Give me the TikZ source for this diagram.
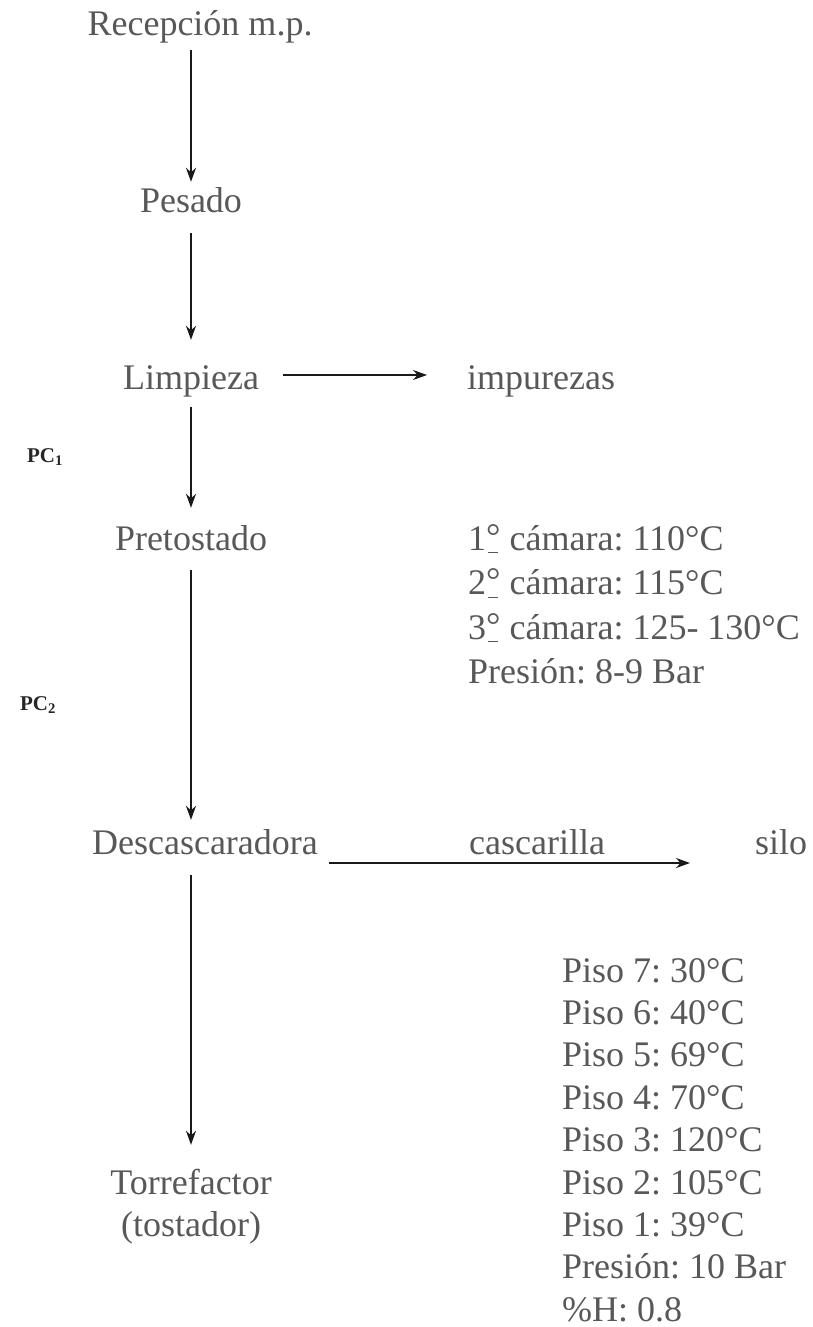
\documentclass[tikz,border=0pt]{standalone}
\usepackage{fontspec}
\setmainfont{Liberation Serif}
\usetikzlibrary{arrows.meta}
\definecolor{txt}{RGB}{88,88,88}
\definecolor{ln}{RGB}{25,25,25}
\newcommand\ordo{\ooalign{\raisebox{2pt}{°}\cr\hidewidth\rule[-3pt]{0.28em}{0.9pt}\hidewidth}}
\frenchspacing
\begin{document}
\begin{tikzpicture}[x=1pt,y=-1pt,
  lbl/.style={font=\fontsize{36}{42}\selectfont, text=txt, inner sep=0pt, text height=25pt, text depth=8pt},
  arr/.style={draw=ln, line width=1.5pt, -{Stealth[length=14pt,width=10pt]}},
  pc/.style={font=\fontsize{21}{22}\selectfont\bfseries, text=black!85, inner sep=0pt}]
\useasboundingbox[fill=white] (0,0) rectangle (812,1327);
% process column
\node[lbl,anchor=base] (rec) at (200,36) {Recepción m.p.};
\node[lbl,anchor=base] (pes) at (191,212) {Pesado};
\node[lbl,anchor=base] (lim) at (191,389) {Limpieza};
\node[lbl,anchor=base west] (imp) at (467,389) {impurezas};
\node[lbl,anchor=base] (pre) at (191,550) {Pretostado};
\node[lbl,anchor=base] (des) at (205,854) {Descascaradora};
\node[lbl,anchor=base west] (cas) at (469,854) {cascarilla};
\node[lbl,anchor=base west] (silo) at (755,854) {silo};
\node[lbl,anchor=base] (tor) at (191,1194) {Torrefactor};
\node[lbl,anchor=base] (tos) at (191,1236) {(tostador)};
% handwritten marks
\node[pc] (pc1) at (45,457) {PC\textsubscript{1}};
\node[pc] (pc2) at (38,705) {PC\textsubscript{2}};
% parameter blocks
\foreach \t [count=\i] in {{1\ordo\ cámara: 110°C},{2\ordo\ cámara: 115°C},{3\ordo\ cámara: 125- 130°C},{Presión: 8-9 Bar}}
  \node[lbl,anchor=base west] (cam\i) at (468,{550+44.5*(\i-1)}) {\t};
\foreach \t [count=\i] in {{Piso 7: 30°C},{Piso 6: 40°C},{Piso 5: 69°C},{Piso 4: 70°C},{Piso 3: 120°C},{Piso 2: 105°C},{Piso 1: 39°C},{Presión: 10 Bar},{\%H: 0.8}}
  \node[lbl,anchor=base west] (p\i) at (562,{982+42.4*(\i-1)}) {\t};
% connectors
\draw[arr, shorten <=6pt, shorten >=5pt] (pes.north |- rec.south) -- (pes.north);
\draw[arr, shorten <=13pt, shorten >=24pt] (pes.south) -- (lim.north);
\draw[arr, shorten <=10pt, shorten >=17pt] (lim.south) -- (pre.north);
\draw[arr, shorten <=12pt, shorten >=9pt] (pre.south) -- (pre.south |- des.north);
\draw[arr, shorten <=13pt, shorten >=24pt] (tor.north |- des.south) -- (tor.north);
\draw[arr] ([xshift=24pt,yshift=14pt]lim.base east) -- ([xshift=-40pt,yshift=14pt]imp.base west);
\draw[arr] ([xshift=11pt,yshift=-9pt]des.base east) -- ([xshift=-65pt,yshift=-9pt]silo.base west);
\end{tikzpicture}
\end{document}
